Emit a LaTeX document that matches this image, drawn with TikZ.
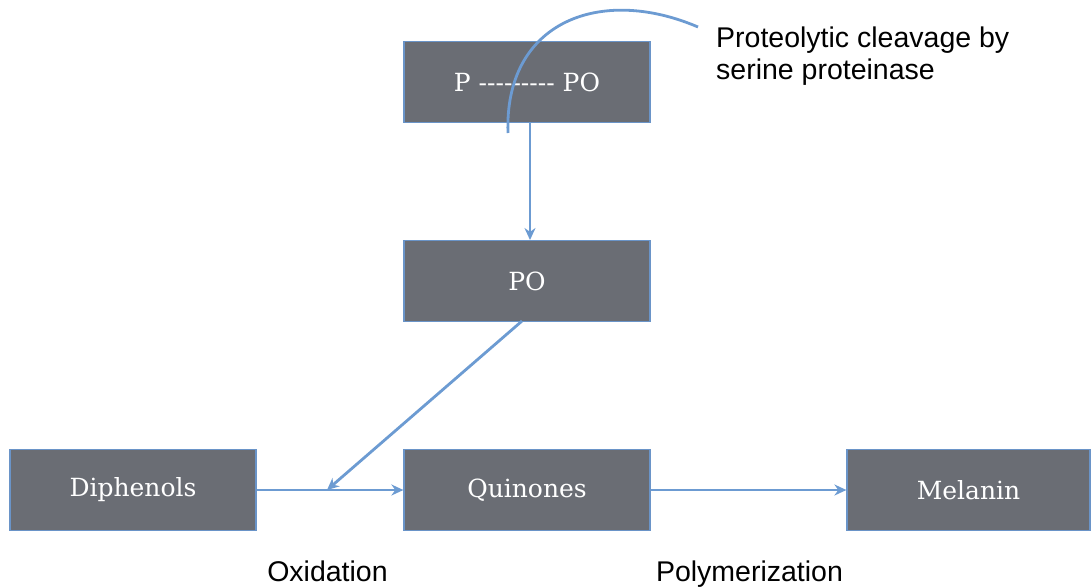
\documentclass[tikz,border=0pt]{standalone}
\usepackage{fontspec}
\setmainfont{DejaVu Serif}
\newfontfamily\labelfont{Liberation Sans}
\usetikzlibrary{arrows.meta}
\definecolor{boxfill}{HTML}{6A6D74}
\definecolor{boxline}{HTML}{6A94C8}
\definecolor{arr}{HTML}{6C9BD2}
\newcommand{\hy}{-\kern0pt}
\tikzset{
  stagebox/.style={draw=boxline, line width=1.2pt, fill=boxfill, minimum width=246pt, minimum height=81pt, inner sep=0pt, text=white, font=\fontsize{25}{29}\selectfont},
  conn/.style={draw=arr, line width=2.8pt, -{Stealth[length=12pt,width=11pt]}},
  lbl/.style={font=\labelfont\fontsize{28.5}{32}\selectfont, text=black, inner sep=0pt}
}
\begin{document}
\begin{tikzpicture}[x=1pt,y=-1pt]
\useasboundingbox (0,0) rectangle (1091,587);
\node[stagebox] (ppo) at (527,82) {P \hy\hy\hy\hy\hy\hy\hy\hy\hy\ PO};
\node[stagebox] (po) at (527,281) {PO};
\node[stagebox] (dip) at (133,490) {Diphenols};
\node[stagebox] (qui) at (527,490) {Quinones};
\node[stagebox, minimum width=243pt] (mel) at (968.5,490) {Melanin};
\coordinate (a1) at (530,122);
\coordinate (a2) at (530,240);
\draw[conn] (a1) -- (a2);
\coordinate (pofoot) at (522,321);
\coordinate (oxmid) at (327,490);
\draw[conn] (pofoot) -- (oxmid);
\draw[conn] (dip.east) -- (qui.west);
\draw[conn] (qui.east) -- (mel.west);
\coordinate (arcs) at (508,133);
\coordinate (arce) at (698,27);
\draw[arr, line width=2.8pt] (arcs) .. controls (504,22) and (600,-15) .. (arce);
\node[lbl, anchor=north west, align=left] (prot) at (716,27) {Proteolytic cleavage by\\serine proteinase};
\node[lbl, anchor=base] (ox) at (327.5,581) {Oxidation};
\node[lbl, anchor=base] (poly) at (749.5,581) {Polymerization};
\end{tikzpicture}
\end{document}
